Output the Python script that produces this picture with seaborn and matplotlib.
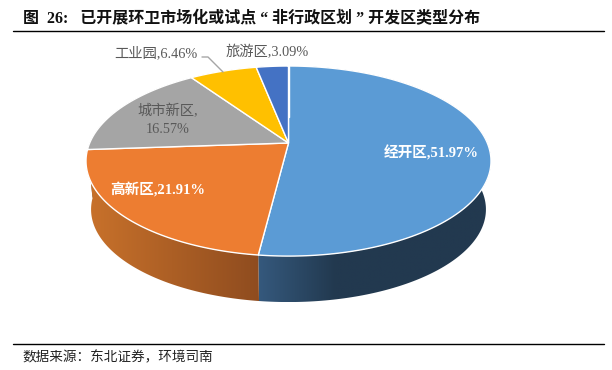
import numpy as np
import matplotlib
matplotlib.use("Agg")
import matplotlib.pyplot as plt
import seaborn as sns
from matplotlib.patches import Polygon

# data
categories = ["经开区", "高新区", "城市新区", "工业园", "旅游区"]
shares = [51.97, 21.91, 16.57, 6.46, 3.09]
colors = ["#5b9bd5", "#ed7d31", "#a5a5a5", "#ffc000", "#4472c4"]
side_ramps = [["#35597d", "#22394f", "#22394f", "#22394f"], ["#c9722b", "#8f4c1f"],
              ["#6a6a6a", "#6a6a6a"], ["#a07800", "#a07800"], ["#2a4a80", "#2a4a80"]]

sns.set_theme(style="white")
FONT = ["Liberation Serif", "Noto Sans CJK SC"]

W, H = 612, 370
fig = plt.figure(figsize=(W / 100, H / 100), dpi=100)
ax = fig.add_axes([0, 0, 1, 1])

# pie only used for slice angles, it gets projected below
tmp = fig.add_axes([0, 0, 0.1, 0.1])
wedges, _ = tmp.pie(shares, startangle=90, counterclock=False)
angles = [(w.theta1, w.theta2) for w in wedges]
fig.delaxes(tmp)

# perspective of the disc in pixels
CX, CY = 288.5, 143
K, A, C = 198.8, 91.6, 0.19
SHRINK, DEPTH = 0.975, 48.8


def project(theta, bottom=False):
    t = np.radians(theta)
    x, y = np.cos(t), np.sin(t)
    px = K * x / (1 + C * y)
    py = A * y / (1 + C * y)
    if bottom:
        return CX + px * SHRINK, CY - py * SHRINK + DEPTH
    return CX + px, CY - py


# side walls, back slices first so the front ones cover them
for i in [4, 3, 2, 0, 1]:
    t1, t2 = angles[i]
    th = np.linspace(t1, t2, 200)
    x0, y0 = project(th)
    x1, y1 = project(th, bottom=True)
    outline = np.c_[np.r_[x0, x1[::-1]], np.r_[y0, y1[::-1]]]
    poly = Polygon(outline, closed=True, facecolor="none", edgecolor="none")
    ax.add_patch(poly)
    ramp = np.array(sns.blend_palette(side_ramps[i], 256))[None, :, :]
    lo, hi = outline[:, 0].min(), outline[:, 0].max()
    im = ax.imshow(ramp, extent=[lo, hi, outline[:, 1].max(), outline[:, 1].min()], aspect="auto",
                   interpolation="bilinear")
    im.set_clip_path(poly)

# seam between blue and orange walls
sx0, sy0 = project(angles[0][1])
sx1, sy1 = project(angles[0][1], bottom=True)
ax.plot([sx0, sx1], [sy0, sy1], color="white", lw=1)

# top surface
for (t1, t2), c in zip(angles, colors):
    th = np.linspace(t1, t2, 200)
    x, y = project(th)
    ax.fill(np.r_[CX, x], np.r_[CY, y], facecolor=c, edgecolor="white", lw=1, joinstyle="miter")

# labels
GREY = "#595959"
ax.plot([202, 208, 223], [57, 57, 72], color="#a6a6a6", lw=1)
ax.text(156, 53, f"{categories[3]},{shares[3]:.2f}%", ha="center", va="center", color=GREY, fontsize=10.3, family=FONT)
ax.text(267, 52, f"{categories[4]},{shares[4]:.2f}%", ha="center", va="center", color=GREY, fontsize=10.3, family=FONT)
ax.text(168, 120, f"{categories[2]},\n{shares[2]:.2f}%", ha="center", va="center", color=GREY, fontsize=10.3,
        family=FONT, linespacing=1.4)
ax.text(158, 190, f"{categories[1]},{shares[1]:.2f}%", ha="center", va="center", color="white", fontsize=10.5,
        family=FONT, fontweight="bold")
ax.text(431, 153, f"{categories[0]},{shares[0]:.2f}%", ha="center", va="center", color="white", fontsize=10.5,
        family=FONT, fontweight="bold")

# header and footer
ax.text(23, 23, "图  26:   已开展环卫市场化或试点 “ 非行政区划 ” 开发区类型分布", ha="left", va="baseline",
        fontsize=11.5, fontweight="bold", color="#111111", family=FONT)
ax.plot([13, 604], [31, 31], color="black", lw=1)
ax.plot([13, 604], [344, 344], color="black", lw=1)
ax.text(22, 361, "数据来源：东北证券，环境司南", ha="left", va="baseline", fontsize=9.8, color="#222222", family=FONT)

ax.set_xlim(0, W)
ax.set_ylim(H, 0)
ax.axis("off")

fig.savefig("out.png", dpi=100, facecolor="white")
